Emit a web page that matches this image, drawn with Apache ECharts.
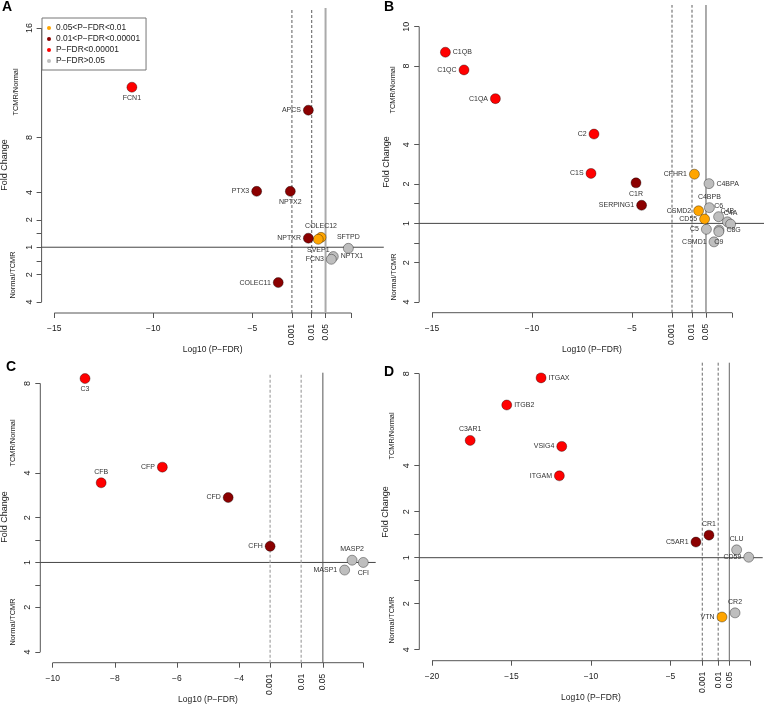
<!DOCTYPE html>
<html><head><meta charset="utf-8">
<script src="https://cdn.jsdelivr.net/npm/echarts@6/dist/echarts.min.js"></script>
<style>html,body{margin:0;padding:0;background:#fff}#c{width:764px;height:704px}</style>
</head><body><div id="c"></div>
<script>
// ---------- data ----------
const catNames = ['0.05<P\u2212FDR<0.01', '0.01<P\u2212FDR<0.00001', 'P\u2212FDR<0.00001', 'P\u2212FDR>0.05'];
const catCodes = ['o', 'd', 'r', 'g'];

const genesA = ['FCN1','APCS','PTX3','NPTX2','NPTXR','COLEC12','SVEP1','SFTPD','NPTX1','FCN3','COLEC11'];
const xA     = [-11.08, -2.17, -4.78, -3.08, -2.17, -1.53, -1.67, -0.15, -0.91, -1.01, -3.69];
const yA     = [5.84, 5.0, 2.04, 2.04, 0.33, 0.36, 0.29, -0.04, -0.34, -0.44, -1.29];
const catA   = ['r','d','d','d','d','o','o','g','g','g','d'];

const genesB = ['C1QB','C1QC','C1QA','C2','C1S','C1R','SERPING1','CFHR1','C4BPA','C4BPB','CSMD2','CD55','C6','C4B','C4A','C5','C8G','C9','CSMD1'];
const xB     = [-14.33, -13.4, -11.83, -6.9, -7.05, -4.8, -4.52, -1.88, -1.15, -1.13, -1.67, -1.37, -0.67, -0.23, -0.07, -1.28, -0.65, -0.66, -0.9];
const yB     = [4.35, 3.90, 3.17, 2.27, 1.27, 1.03, 0.46, 1.25, 1.01, 0.40, 0.32, 0.11, 0.17, 0.04, -0.02, -0.15, -0.17, -0.21, -0.47];
const catB   = ['r','r','r','r','r','d','d','o','g','g','o','o','g','g','g','g','g','g','g'];

const genesC = ['C3','CFB','CFP','CFD','CFH','MASP2','CFI','MASP1'];
const xC     = [-8.96, -8.44, -6.47, -4.35, -3.0, -0.36, 0.0, -0.6];
const yC     = [4.11, 1.78, 2.13, 1.45, 0.36, 0.05, 0.0, -0.17];
const catC   = ['r','r','r','d','d','g','g','g'];

const genesD = ['ITGAX','ITGB2','C3AR1','VSIG4','ITGAM','CR1','C5AR1','CLU','CD59','VTN','CR2'];
const xD     = [-13.14, -15.3, -17.6, -11.84, -11.99, -2.58, -3.4, -0.84, -0.08, -1.76, -0.94];
const yD     = [3.91, 3.32, 2.55, 2.42, 1.78, 0.49, 0.34, 0.17, 0.01, -1.29, -1.2];
const catD   = ['r','r','r','r','r','d','d','g','g','o','g'];

const pTicks     = [0.001, 0.01, 0.05];
const pTickText  = ['0.001', '0.01', '0.05'];
const xTicksAB   = [-15, -10, -5];
const xTicksC    = [-10, -8, -6, -4];
const xTicksD    = [-20, -15, -10, -5];
const xTickEnd   = 0;
const yTickPosA  = [-2, -1, 0, 1, 2, 4, 8];
const yTickLabA  = ['4', '2', '1', '2', '4', '8', '16'];
const yTickPosB  = [-2, -1, 0, 1, 2, 4, 5];
const yTickLabB  = ['4', '2', '1', '2', '4', '8', '10'];
const yTickPosCD = [-2, -1, 0, 1, 2, 4];
const yTickLabCD = ['4', '2', '1', '2', '4', '8'];
const yMinorTicks = [-0.5, 0.5];

// ---------- styling / layout ----------
const labelSide = {
  FCN1:'bottom', APCS:'left', PTX3:'left', NPTX2:'bottom', NPTXR:'left', COLEC12:'top', SVEP1:'bottom',
  SFTPD:'top', NPTX1:'right', FCN3:'left', COLEC11:'left',
  C1QB:'right', C1QC:'left', C1QA:'left', C2:'left', C1S:'left', C1R:'bottom', SERPING1:'left', CFHR1:'left',
  C4BPA:'right', C4BPB:'top', CSMD2:'left', CD55:'left', C6:'top', C4B:'top', C4A:'top', C5:'left',
  C8G:'right', C9:'bottom', CSMD1:'left',
  C3:'bottom', CFB:'top', CFP:'left', CFD:'left', CFH:'left', MASP2:'top', CFI:'bottom', MASP1:'left',
  ITGAX:'right', ITGB2:'right', C3AR1:'top', VSIG4:'left', ITGAM:'left', CR1:'top', C5AR1:'left',
  CLU:'top', CD59:'left', VTN:'left', CR2:'top'
};
const catColor = { o:'#FFA500', d:'#8B0000', r:'#FF0000', g:'#BEBEBE' };
const FONT = 'Liberation Sans, Arial, Helvetica, sans-serif';

const panels = [
  { letter:'A', genes:genesA, xs:xA, ys:yA, cats:catA, xTicks:xTicksAB, yPos:yTickPosA, yLab:yTickLabA,
    box:{left:41.6, top:8, width:342.2, height:305}, xr:[-15.64, 1.64], yr:[-2.4, 8.73],
    letterPos:[2, 0], side:{top:[16, 92], bot:[13, 275], fold:[5, 165]},
    dash:{color:'#333', width:0.8}, solid:{color:'#aaaaaa', width:2} },
  { letter:'B', genes:genesB, xs:xB, ys:yB, cats:catB, xTicks:xTicksAB, yPos:yTickPosB, yLab:yTickLabB,
    box:{left:419.2, top:5, width:345.6, height:307.7}, xr:[-15.64, 1.64], yr:[-2.27, 5.55],
    letterPos:[384, 0], side:{top:[393, 90], bot:[394, 277], fold:[387, 162]},
    dash:{color:'#333', width:0.8}, solid:{color:'#888', width:1.4} },
  { letter:'C', genes:genesC, xs:xC, ys:yC, cats:catC, xTicks:xTicksC, yPos:yTickPosCD, yLab:yTickLabCD,
    box:{left:40.3, top:372.7, width:335.4, height:290}, xr:[-10.4, 0.4], yr:[-2.24, 4.24],
    letterPos:[6, 360], side:{top:[13, 443], bot:[13, 622], fold:[5, 517]},
    dash:{color:'#aaaaaa', width:1.3}, solid:{color:'#555', width:1} },
  { letter:'D', genes:genesD, xs:xD, ys:yD, cats:catD, xTicks:xTicksD, yPos:yTickPosCD, yLab:yTickLabCD,
    box:{left:419.3, top:362.7, width:343.4, height:298}, xr:[-20.8, 0.8], yr:[-2.24, 4.24],
    letterPos:[384, 365], side:{top:[392, 436], bot:[392, 620], fold:[386, 512]},
    dash:{color:'#444', width:0.8}, solid:{color:'#666', width:1} }
];

const pLog = pTicks.map(p => Math.log10(p));
function lookup(vals, labs, v) {
  for (let i = 0; i < vals.length; i++) if (Math.abs(vals[i] - v) < 1e-6) return labs[i];
  return '';
}
const minus = v => (v < 0 ? '\u2212' + Math.abs(v) : String(v));

const grid = [], xAxis = [], yAxis = [], series = [], graphic = [];

panels.forEach((P, gi) => {
  grid.push({ left:P.box.left, top:P.box.top, width:P.box.width, height:P.box.height,
              containLabel:false, outerBoundsMode:'none' });
  const xa0 = xAxis.length;
  xAxis.push({
    gridIndex:gi, type:'value', position:'bottom', min:P.xr[0], max:P.xr[1],
    axisLine:{show:false, onZero:false}, splitLine:{show:false},
    axisTick:{show:true, customValues:P.xTicks.concat(pLog, [xTickEnd]), length:5, lineStyle:{color:'#555', width:1}},
    axisLabel:{customValues:P.xTicks, formatter:minus, fontSize:8.5, color:'#222', fontFamily:FONT, margin:11},
    name:'Log10 (P\u2212FDR)', nameLocation:'middle', nameGap:32,
    nameTextStyle:{fontSize:8.5, color:'#222', fontFamily:FONT}
  });
  xAxis.push({
    gridIndex:gi, type:'value', position:'bottom', min:P.xr[0], max:P.xr[1],
    axisLine:{show:false, onZero:false}, splitLine:{show:false}, axisTick:{show:false},
    axisLabel:{customValues:pLog, rotate:90, formatter:v => lookup(pLog, pTickText, v),
      fontSize:8.5, color:'#222', fontFamily:FONT, margin:11}
  });
  const ya0 = yAxis.length;
  yAxis.push({
    gridIndex:gi, type:'value', position:'left', min:P.yr[0], max:P.yr[1],
    axisLine:{show:false, onZero:false}, splitLine:{show:false},
    axisTick:{show:true, customValues:P.yPos.concat(yMinorTicks), length:5, lineStyle:{color:'#555', width:1}},
    axisLabel:{customValues:P.yPos, rotate:90, formatter:v => lookup(P.yPos, P.yLab, v),
      fontSize:9, color:'#222', fontFamily:FONT, margin:8}
  });

  const lineBase = { type:'line', xAxisIndex:xa0, yAxisIndex:ya0, symbol:'none', silent:true,
                     clip:false, animation:false, z:1 };
  // R-style axis lines spanning first..last tick
  series.push(Object.assign({}, lineBase, { data:[[P.xTicks[0], P.yr[0]], [xTickEnd, P.yr[0]]],
    lineStyle:{color:'#555', width:1} }));
  series.push(Object.assign({}, lineBase, { data:[[P.xr[0], P.yPos[0]], [P.xr[0], P.yPos[P.yPos.length - 1]]],
    lineStyle:{color:'#555', width:1} }));
  // horizontal line at fold change 1
  series.push(Object.assign({}, lineBase, { data:[[P.xr[0], 0], [P.xr[1], 0]],
    lineStyle:{color:'#444', width:1} }));
  // vertical significance thresholds
  pLog.forEach((t, k) => {
    const st = k < 2 ? { color:P.dash.color, width:P.dash.width, type:[3, 2] }
                     : { color:P.solid.color, width:P.solid.width, type:'solid' };
    series.push(Object.assign({}, lineBase, { data:[[t, P.yr[0]], [t, P.yr[1]]], lineStyle:st }));
  });

  // points by category (grey first, red last)
  ['g', 'o', 'd', 'r'].forEach(code => {
    const ci = catCodes.indexOf(code);
    const data = [];
    P.genes.forEach((g, i) => {
      if (P.cats[i] !== code) return;
      data.push({ name:g, value:[P.xs[i], P.ys[i]], label:{ position:labelSide[g] || 'right' } });
    });
    series.push({
      type:'scatter', name:catNames[ci], xAxisIndex:xa0, yAxisIndex:ya0, data:data,
      symbol:'circle', symbolSize:10, z:3, animation:false, clip:false,
      itemStyle:{ color:catColor[code], borderColor:'rgba(0,0,0,0.45)', borderWidth:0.8, opacity:1 },
      label:{ show:true, formatter:p => p.name, fontSize:7, color:'#333', fontFamily:FONT, distance:2 },
      labelLayout:{ hideOverlap:false },
      emphasis:{ disabled:true }
    });
  });

  // panel letter
  graphic.push({ type:'text', x:P.letterPos[0], y:P.letterPos[1], z:10,
    style:{ text:P.letter, font:'bold 14px ' + FONT, fill:'#000', textAlign:'left', textVerticalAlign:'top' } });
  // side titles
  const rot = (txt, pos, size) => ({ type:'text', x:pos[0], y:pos[1], rotation:Math.PI / 2, z:10,
    style:{ text:txt, font:size + 'px ' + FONT, fill:'#222', textAlign:'center', textVerticalAlign:'middle' } });
  graphic.push(rot('TCMR/Normal', P.side.top, 7.4));
  graphic.push(rot('Normal/TCMR', P.side.bot, 7.4));
  graphic.push(rot('Fold Change', P.side.fold, 9));
});

const option = {
  backgroundColor:'#fff',
  animation:false,
  grid, xAxis, yAxis, series, graphic,
  legend:{
    data:catNames, left:42, top:18, orient:'vertical', icon:'circle',
    itemWidth:4, itemHeight:4, itemGap:1, padding:[5, 6, 4, 5],
    borderColor:'#777', borderWidth:1, backgroundColor:'#fff', selectedMode:false,
    itemStyle:{ borderWidth:0 },
    textStyle:{ fontSize:8.4, color:'#222', fontFamily:FONT, lineHeight:10, padding:[0, 0, 0, 0] }
  }
};
const chart = echarts.init(document.getElementById('c'), null, { renderer:'canvas' });
chart.setOption(option);
</script>
</body></html>
